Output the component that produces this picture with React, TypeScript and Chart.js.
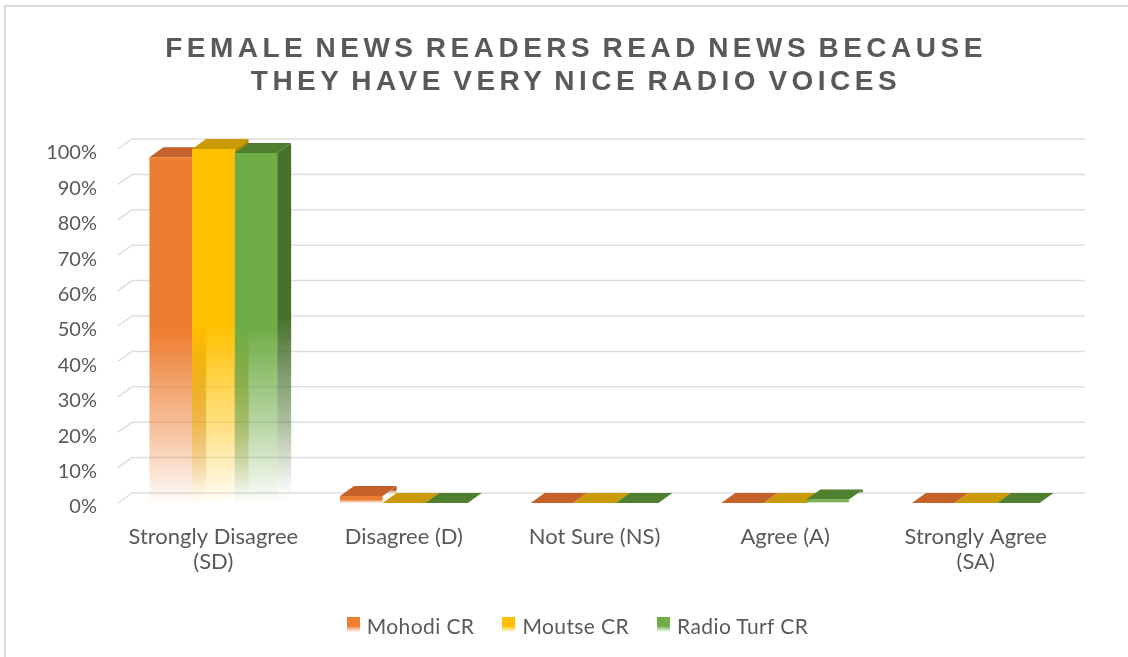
import React, { useEffect, useRef } from "react";
import { Chart, registerables } from "chart.js";

Chart.register(...registerables);

// ---------- data ----------
const titleLines = ["FEMALE NEWS READERS READ NEWS BECAUSE", "THEY HAVE VERY NICE RADIO VOICES"];
const categories: string[][] = [
  ["Strongly Disagree", "(SD)"],
  ["Disagree (D)"],
  ["Not Sure (NS)"],
  ["Agree (A)"],
  ["Strongly Agree", "(SA)"],
];
const seriesNames = ["Mohodi CR", "Moutse CR", "Radio Turf CR"];
const mohodiValues = [0.977, 0.02, 0, 0, 0];
const moutseValues = [1.0, 0, 0, 0, 0];
const radioTurfValues = [0.989, 0, 0, 0.01, 0];
const yTickValues = [0, 0.1, 0.2, 0.3, 0.4, 0.5, 0.6, 0.7, 0.8, 0.9, 1.0];

// ---------- styles ----------
const frontColors = ["#ED7D31", "#FFC000", "#70AD47"];
const topColors = ["#C4622A", "#C99A06", "#4F8030"];
const sideColors = ["#B4561F", "#B88A00", "#48722C"];
const TEXT = "#595959";
const DX = 14;
const DY = -10;
const FONT = "Lato";

function rgba(hex: string, a: number) {
  const n = parseInt(hex.slice(1), 16);
  return `rgba(${(n >> 16) & 255},${(n >> 8) & 255},${n & 255},${a})`;
}

const fadeStops: [number, number][] = [
  [0, 1],
  [0.5, 1],
  [0.65, 0.72],
  [0.8, 0.45],
  [0.94, 0.15],
  [1, 0.02],
];

function fadeGradient(ctx: CanvasRenderingContext2D, top: number, bottom: number, color: string) {
  const g = ctx.createLinearGradient(0, top, 0, Math.max(bottom, top + 1));
  fadeStops.forEach(([s, a]) => g.addColorStop(s, rgba(color, a)));
  return g;
}

const threeDPlugin = {
  id: "threeD",
  beforeDatasetsDraw(chart: any) {
    const { ctx, chartArea, scales } = chart;
    if (!chartArea) return;
    const ys = scales.y;
    ctx.save();
    // back-wall gridlines with side-wall segment
    ctx.strokeStyle = "#dedede";
    ctx.lineWidth = 1.5;
    ys.ticks.forEach((t: any) => {
      const py = ys.getPixelForValue(t.value);
      ctx.beginPath();
      ctx.moveTo(chartArea.left, py);
      ctx.lineTo(chartArea.left + DX, py + DY);
      ctx.lineTo(chartArea.right + DX, py + DY);
      ctx.stroke();
    });
    // side and top faces of the bars
    chart.data.datasets.forEach((_ds: any, i: number) => {
      const meta = chart.getDatasetMeta(i);
      if (meta.hidden) return;
      meta.data.forEach((el: any) => {
        const { x, y, base, width } = el.getProps(["x", "y", "base", "width"], true);
        const l = x - width / 2;
        const r = x + width / 2;
        if (base - y > 0.5) {
          ctx.fillStyle = fadeGradient(ctx, y + DY, base + DY, sideColors[i]);
          ctx.beginPath();
          ctx.moveTo(r, y);
          ctx.lineTo(r + DX, y + DY);
          ctx.lineTo(r + DX, base + DY);
          ctx.lineTo(r, base);
          ctx.closePath();
          ctx.fill();
        }
        ctx.fillStyle = topColors[i];
        ctx.beginPath();
        ctx.moveTo(l, y);
        ctx.lineTo(r, y);
        ctx.lineTo(r + DX, y + DY);
        ctx.lineTo(l + DX, y + DY);
        ctx.closePath();
        ctx.fill();
      });
    });
    ctx.restore();
  },
};

export default function App() {
  const canvasRef = useRef<HTMLCanvasElement | null>(null);

  useEffect(() => {
    if (!canvasRef.current) return;
    const seriesValues = [mohodiValues, moutseValues, radioTurfValues];
    const chart = new Chart(canvasRef.current, {
      type: "bar",
      data: {
        labels: categories,
        datasets: seriesNames.map((name, i) => ({
          label: name,
          data: seriesValues[i],
          backgroundColor: (c: any) => {
            const area = c.chart.chartArea;
            const ys = c.chart.scales && c.chart.scales.y;
            if (!area || !ys || c.raw == null) return frontColors[i];
            const top = ys.getPixelForValue(c.raw);
            const base = ys.getPixelForValue(0);
            return fadeGradient(c.chart.ctx, top, base, frontColors[i]);
          },
          borderWidth: 0,
          categoryPercentage: 0.67,
          barPercentage: 1,
        })),
      },
      options: {
        responsive: false,
        animation: false,
        layout: { padding: { top: 149, right: 57, bottom: 74, left: 0 } },
        plugins: {
          legend: { display: false },
          title: { display: false },
          tooltip: { enabled: false },
        },
        scales: {
          x: {
            grid: { display: false, drawTicks: false },
            border: { display: false },
            ticks: {
              color: TEXT,
              font: { family: FONT, size: 22, lineHeight: 1.14 },
              padding: 21,
              maxRotation: 0,
              autoSkip: false,
            },
            afterFit: (s: any) => {
              s.height = 80;
            },
          },
          y: {
            min: 0,
            max: 1,
            grid: { display: false, drawTicks: false },
            border: { display: false },
            afterBuildTicks: (s: any) => {
              s.ticks = yTickValues.map((v) => ({ value: v }));
            },
            ticks: {
              color: TEXT,
              font: { family: FONT, size: 20 },
              padding: 21,
              labelOffset: 4,
              callback: (v: any) => Math.round(Number(v) * 100) + "%",
            },
            afterFit: (s: any) => {
              s.width = 118;
            },
          },
        },
      },
      plugins: [threeDPlugin],
    });
    return () => chart.destroy();
  }, []);

  return (
    <div
      style={{
        position: "absolute",
        left: 0,
        top: 0,
        width: 1128,
        height: 657,
        overflow: "hidden",
        background: "#ffffff",
      }}
    >
      <div
        style={{
          position: "absolute",
          left: 4,
          top: 5,
          width: 1160,
          height: 700,
          border: "2px solid #d9d9d9",
        }}
      />
      <canvas
        ref={canvasRef}
        width={1128}
        height={657}
        style={{ position: "absolute", left: 0, top: 0, width: 1128, height: 657 }}
      />
      <div
        style={{
          position: "absolute",
          left: 0,
          top: 30.5,
          width: 1144,
          textAlign: "center",
          fontFamily: "'Liberation Sans', Arial, sans-serif",
          fontWeight: 700,
          fontSize: 28,
          lineHeight: "33px",
          letterSpacing: 4.5,
          wordSpacing: -4,
          paddingLeft: 4,
          color: TEXT,
          whiteSpace: "nowrap",
        }}
      >
        {titleLines.map((t) => (
          <div key={t}>{t}</div>
        ))}
      </div>
      <div
        style={{
          position: "absolute",
          left: 0,
          top: 612,
          width: 1155,
          height: 26,
          display: "flex",
          justifyContent: "center",
          alignItems: "center",
          gap: 28,
          fontFamily: FONT,
          fontSize: 21,
          letterSpacing: 0.4,
          color: TEXT,
        }}
      >
        {seriesNames.map((name, i) => (
          <div key={name} style={{ display: "flex", alignItems: "center" }}>
            <span
              style={{
                display: "inline-block",
                width: 13,
                height: 15,
                marginRight: 7,
                marginTop: -2,
                background: `linear-gradient(to bottom, ${frontColors[i]} 0%, ${frontColors[i]} 60%, ${rgba(
                  frontColors[i],
                  0
                )} 100%)`,
              }}
            />
            <span>{name}</span>
          </div>
        ))}
      </div>
    </div>
  );
}
